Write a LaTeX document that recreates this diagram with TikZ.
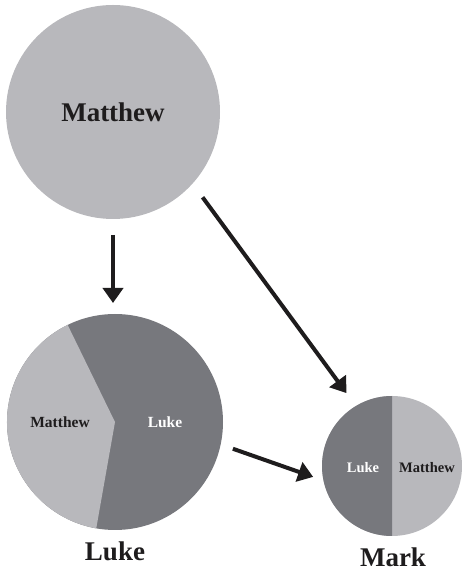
\documentclass[tikz,border=0pt]{standalone}
\usepackage{fontspec}
\setmainfont{Liberation Serif}
\usetikzlibrary{arrows.meta}
\definecolor{lightgrey}{RGB}{184,184,188}
\definecolor{darkgrey}{RGB}{119,120,125}
\definecolor{arrowblack}{RGB}{30,28,29}
\tikzset{
  disc/.style={circle, inner sep=0pt, outer sep=0pt},
  gospel/.style={font=\bfseries\fontsize{27}{32}\selectfont, text=arrowblack, inner sep=0pt},
  share/.style={font=\bfseries\fontsize{15.5}{18}\selectfont},
  smallshare/.style={font=\bfseries\fontsize{14.5}{17}\selectfont},
  source/.style={draw=arrowblack, line width=4pt, -{Triangle[width=20pt,length=15pt]}}
}
\begin{document}
\begin{tikzpicture}[x=1pt, y=1pt]
\useasboundingbox (0,0) rectangle (462,573);
% Matthew
\node[disc, fill=lightgrey, minimum size=214pt, gospel] (matthew) at (113,461) {Matthew};

% Luke: 40% Matthew, 60% Luke
\node[disc, fill=darkgrey, minimum size=216pt] (luke) at (115,151) {};
\fill[lightgrey] (luke.center) -- ++(116:108) arc[start angle=116, end angle=260, radius=108] -- cycle;
\node[share, text=arrowblack] at (60,151) {Matthew};
\node[share, text=white] at (165,151) {Luke};
\node[gospel] (lukename) at (115,22) {Luke};

% Mark: half Luke, half Matthew
\node[disc, fill=lightgrey, minimum size=140pt] (mark) at (392,107) {};
\fill[darkgrey] (mark.north) arc[start angle=90, end angle=270, radius=70] -- cycle;
\node[smallshare, text=white] at (363,105) {Luke};
\node[smallshare, text=arrowblack] at (427,105) {Matthew};
\node[gospel] (markname) at (393,16) {Mark};

% Arrows
\draw[source, shorten <=16pt, shorten >=11pt] (matthew.south) -- (matthew.south |- luke.north);
\draw[source, shorten <=17pt, shorten >=16pt] (matthew.-42) -- (mark.121);
\draw[source, shorten <=13pt, shorten >=11pt] (luke.-12) -- (mark.192);
\end{tikzpicture}
\end{document}
